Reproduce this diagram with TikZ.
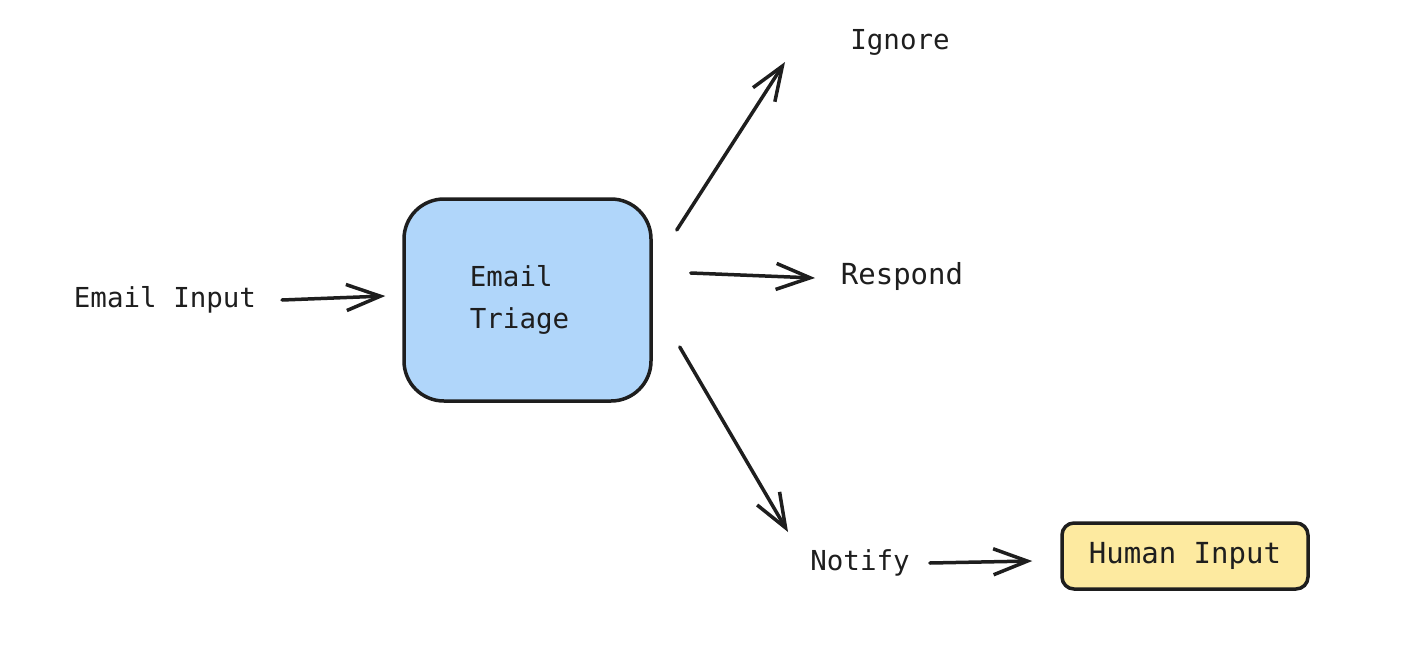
\documentclass[tikz,border=0pt]{standalone}
\usepackage{fontspec}
\setmonofont{DejaVu Sans Mono}
\usetikzlibrary{arrows.meta,calc}
\definecolor{ink}{HTML}{1E1E1E}
\definecolor{triblue}{HTML}{B0D6FA}
\definecolor{humyellow}{HTML}{FDEAA0}
\tikzset{
  lbl/.style={text=ink,font=\ttfamily\fontsize{27.5}{42}\selectfont,inner sep=0pt},
  boxnode/.style={draw=ink,line width=3.5pt,lbl},
  arr/.style={draw=ink,line width=3.5pt,line cap=round,-{Straight Barb[length=34pt,width=26pt,line width=3.5pt]}}
}
\begin{document}
\begin{tikzpicture}[x=1pt,y=-1pt]
\useasboundingbox[fill=white] (0,0) rectangle (1414,648);
\node[lbl] (inp) at (165,300) {Email Input};
\node[boxnode,fill=triblue,rounded corners=40pt,minimum width=247pt,minimum height=202pt,align=left] (tri) at (527.5,300) {Email\\Triage\hspace*{16pt}};
\node[lbl] (ign) at (900,42) {Ignore};
\node[lbl,font=\ttfamily\fontsize{29}{42}\selectfont] (res) at (902,276) {Respond};
\node[lbl] (ntf) at (860,563) {Notify};
\node[boxnode,fill=humyellow,rounded corners=12pt,minimum width=246pt,minimum height=66pt,font=\ttfamily\fontsize{29}{42}\selectfont] (hum) at (1185,556) {Human Input};
\draw[arr] ($(inp.center)+(117,0)$) -- ($(tri.west)+(-17,-4)$);
\draw[arr] ($(tri.east)+(24,-70)$) -- ($(ign.center)+(-115,20)$);
\draw[arr] ($(tri.east)+(38,-27)$) -- ($(res.center)+(-87,2)$);
\draw[arr] ($(tri.east)+(27,47)$) -- ($(ntf.center)+(-72,-31)$);
\draw[arr] ($(ntf.east)+(20,0)$) -- ($(hum.west)+(-28,5)$);
\end{tikzpicture}
\end{document}
